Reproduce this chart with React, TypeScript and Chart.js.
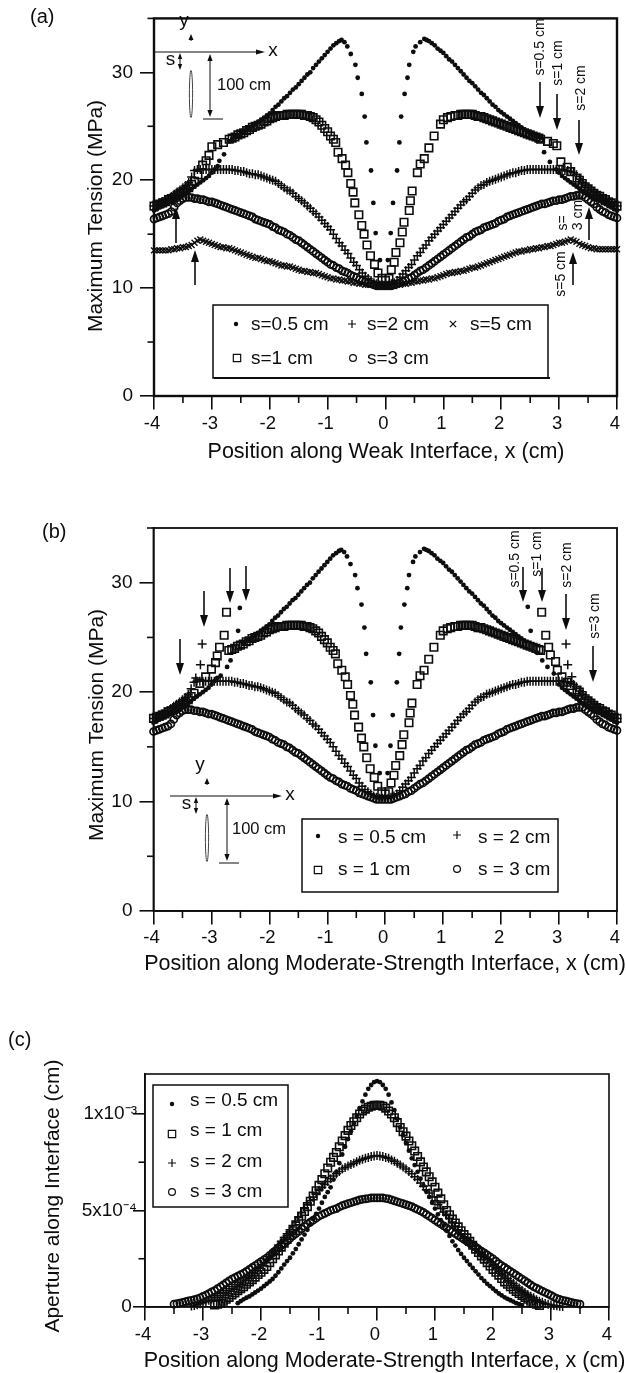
import React, { useEffect, useRef } from "react";
import { Chart, registerables } from "chart.js";
import { drawPoint } from "chart.js/helpers";

Chart.register(...registerables);

const FONT = '"Liberation Sans", Arial, sans-serif';
const INK = "#0d0d0d";

// position grids, cm
const gridX = [-4,-3.9,-3.8,-3.7,-3.6,-3.5,-3.4,-3.3,-3.2,-3.1,-3,-2.9,-2.8,-2.7,-2.6,-2.5,-2.4,-2.3,-2.2,-2.1,-2,-1.9,-1.8,-1.7,-1.6,-1.5,-1.4,-1.3,-1.2,-1.1,-1,-0.9,-0.8,-0.7,-0.6,-0.5,-0.4,-0.3,-0.2,-0.1,0,0.1,0.2,0.3,0.4,0.5,0.6,0.7,0.8,0.9,1,1.1,1.2,1.3,1.4,1.5,1.6,1.7,1.8,1.9,2,2.1,2.2,2.3,2.4,2.5,2.6,2.7,2.8,2.9,3,3.1,3.2,3.3,3.4,3.5,3.6,3.7,3.8,3.9,4];
const gridMid = [-3.95,-3.85,-3.75,-3.65,-3.55,-3.45,-3.35,-3.25,-3.15,-3.05,-2.95,-2.85,-2.75,-2.65,-2.55,-2.45,-2.35,-2.25,-2.15,-2.05,-1.95,-1.85,-1.75,-1.65,-1.55,-1.45,-1.35,-1.25,-1.15,-1.05,-0.95,-0.85,-0.75,-0.65,-0.55,-0.45,-0.35,-0.25,-0.15,-0.05,0.05,0.15,0.25,0.35,0.45,0.55,0.65,0.75,0.85,0.95,1.05,1.15,1.25,1.35,1.45,1.55,1.65,1.75,1.85,1.95,2.05,2.15,2.25,2.35,2.45,2.55,2.65,2.75,2.85,2.95,3.05,3.15,3.25,3.35,3.45,3.55,3.65,3.75,3.85,3.95];

// s = 2, 3, 5 cm tension on the grids, MPa
const tensionS2 = [17.6,17.9,18.2,18.5,18.9,19.3,19.8,20.9,21,21,21,21,21,21,20.9,20.8,20.7,20.6,20.5,20.3,20.1,19.9,19.5,19.1,18.8,18.3,17.9,17.4,16.9,16.3,15.7,15,14.2,13.5,12.8,12.1,11.4,10.9,10.5,10.3,10.3,10.4,10.7,11.3,11.9,12.6,13.3,14,14.7,15.3,15.9,16.5,17.1,17.7,18.2,18.8,19.3,19.6,19.9,20.1,20.3,20.5,20.7,20.8,20.9,21,21,21,21,21,21,20.9,20.8,20.5,19.8,19.3,18.9,18.5,18.2,17.9,17.6];
const tensionS2Mid = [17.7,18,18.3,18.7,19.1,19.5,20.3,21,21,21,21,21,21,21,20.9,20.8,20.6,20.5,20.4,20.2,20,19.7,19.3,19,18.5,18.1,17.6,17.1,16.6,16,15.4,14.6,13.9,13.2,12.4,11.7,11.1,10.7,10.4,10.3,10.3,10.5,11,11.6,12.2,13,13.7,14.4,15,15.6,16.2,16.8,17.4,18,18.5,19.1,19.5,19.8,20,20.2,20.4,20.6,20.7,20.9,21,21,21,21,21,21,21,20.9,20.7,20.1,19.5,19.1,18.7,18.3,18,17.7];
const tensionS3 = [16.4,16.6,16.8,17.1,17.9,18.3,18.4,18.3,18.2,18.1,18,17.8,17.6,17.4,17.2,17,16.8,16.6,16.3,16.1,15.9,15.6,15.3,15,14.7,14.4,14,13.6,13.2,12.8,12.4,12.1,11.8,11.5,11.2,11,10.7,10.5,10.3,10.2,10.2,10.2,10.4,10.6,10.9,11.2,11.6,11.9,12.3,12.7,13.1,13.5,13.9,14.3,14.7,15,15.3,15.6,15.8,16,16.3,16.6,16.8,17,17.2,17.4,17.6,17.8,17.9,18.1,18.2,18.3,18.5,18.6,18.6,18.2,17.8,17.3,17,16.7,16.5];
const tensionS3Mid = [16.5,16.7,16.9,17.5,18.1,18.4,18.4,18.3,18.2,18,17.9,17.7,17.5,17.3,17.1,16.9,16.7,16.4,16.2,16,15.7,15.4,15.2,14.9,14.5,14.2,13.8,13.4,13,12.6,12.2,11.9,11.6,11.4,11.1,10.8,10.6,10.4,10.2,10.2,10.2,10.3,10.5,10.7,11,11.4,11.7,12.1,12.5,12.9,13.3,13.7,14.1,14.5,14.8,15.2,15.4,15.7,15.9,16.2,16.4,16.7,16.9,17.1,17.3,17.5,17.7,17.8,18,18.1,18.2,18.4,18.5,18.6,18.4,18,17.5,17.1,16.8,16.6];
const tensionS5 = [13.5,13.5,13.5,13.6,13.7,13.8,13.9,14.2,14.5,14.3,14.1,13.9,13.8,13.7,13.5,13.3,13.1,12.9,12.8,12.6,12.5,12.3,12.1,12,11.9,11.7,11.6,11.5,11.4,11.2,11,10.9,10.8,10.7,10.6,10.5,10.4,10.3,10.3,10.2,10.2,10.2,10.3,10.4,10.5,10.6,10.7,10.8,10.9,11,11.2,11.4,11.5,11.6,11.7,11.9,12,12.2,12.4,12.6,12.8,13,13.2,13.4,13.5,13.6,13.7,13.8,13.9,14,14.2,14.3,14.5,14.3,14,13.8,13.7,13.6,13.6,13.6,13.6];
const tensionS5Mid = [13.5,13.5,13.5,13.6,13.7,13.8,14,14.4,14.4,14.2,14,13.8,13.7,13.6,13.4,13.2,13,12.8,12.7,12.5,12.4,12.2,12.1,12,11.8,11.6,11.5,11.4,11.3,11.1,10.9,10.8,10.7,10.6,10.5,10.4,10.3,10.3,10.2,10.2,10.2,10.2,10.3,10.4,10.5,10.6,10.7,10.8,10.9,11.1,11.3,11.4,11.5,11.6,11.8,11.9,12.1,12.3,12.5,12.7,12.9,13.1,13.3,13.4,13.5,13.6,13.7,13.8,13.9,14.1,14.2,14.4,14.4,14.1,13.9,13.7,13.6,13.6,13.6,13.6];

// s = 0.5 cm: arc and tails shared by (a) and (b)
const s05TailLX = [-4,-3.95,-3.9,-3.85,-3.8,-3.75,-3.7,-3.65,-3.6,-3.55,-3.5,-3.45,-3.4,-3.35,-3.3,-3.25,-3.2,-3.15,-3.1,-3.05,-3,-2.95,-2.9];
const s05TailLY = [17.2,17.3,17.5,17.6,17.8,17.9,18.1,18.2,18.4,18.5,18.7,18.8,19,19.2,19.4,19.6,19.8,20,20.2,20.4,20.7,21,21.3];
const s05TailRX = [3,3.05,3.1,3.15,3.2,3.25,3.3,3.35,3.4,3.45,3.5,3.55,3.6,3.65,3.7,3.75,3.8,3.85,3.9,3.95,4];
const s05TailRY = [20.7,20.4,20.2,20,19.8,19.6,19.4,19.2,19,18.8,18.7,18.5,18.4,18.2,18.1,17.9,17.8,17.6,17.5,17.3,17.2];
const s05CoreX = [-2.45,-2.4,-2.35,-2.3,-2.25,-2.2,-2.15,-2.1,-2.05,-2,-1.95,-1.9,-1.85,-1.8,-1.75,-1.7,-1.65,-1.6,-1.55,-1.5,-1.45,-1.4,-1.35,-1.3,-1.25,-1.2,-1.15,-1.1,-1.05,-1,-0.95,-0.9,-0.85,-0.8,-0.76,-0.71,-0.66,-0.6,-0.52,-0.48,-0.41,-0.36,-0.33,-0.25,-0.21,-0.17,-0.095,0.04,0.09,0.13,0.2,0.24,0.27,0.33,0.38,0.41,0.48,0.52,0.6,0.67,0.71,0.75,0.8,0.85,0.9,0.95,1,1.05,1.1,1.15,1.2,1.25,1.3,1.35,1.4,1.45,1.5,1.55,1.6,1.65,1.7,1.75,1.8,1.85,1.9,1.95,2,2.05,2.1,2.15,2.2,2.25,2.3,2.35,2.4];
const s05CoreY = [24.5,24.7,24.8,25,25.2,25.4,25.6,25.8,26,26.2,26.5,26.8,27,27.3,27.6,27.8,28.1,28.4,28.6,28.9,29.2,29.5,29.8,30,30.4,30.7,31,31.3,31.6,31.9,32.2,32.5,32.7,32.9,33,32.8,32.4,31.7,30.7,29.5,28,25.9,23.5,20.9,17.9,15.1,12.6,12.6,15.1,17.9,20.9,23.5,25.9,28,29.5,30.7,31.9,32.4,32.8,33.1,33,32.9,32.7,32.5,32.2,32,31.8,31.5,31.2,31,30.7,30.4,30.1,29.8,29.5,29.2,29,28.7,28.4,28.1,27.9,27.6,27.3,27,26.8,26.5,26.3,26.1,25.9,25.7,25.5,25.3,25.1,24.9,24.7];
const s05ExtraAX = [-2.87,-2.79,-2.7,-2.65,-2.6,-2.55,-2.5,2.45,2.5,2.55,2.6,2.65,2.68,2.74,2.84,2.95];
const s05ExtraAY = [21.8,22.4,23.6,23.8,24,24.1,24.3,24.5,24.3,24.2,24.1,24,23.9,22.6,21.7,21];
const s05ExtraBX = [-2.51,-2.54,-2.67,-2.73,-2.84,2.46,2.51,2.62,2.71,2.8,2.91];
const s05ExtraBY = [27.7,25.6,22.9,22.3,21.5,27.8,25.6,23.6,22.9,22.3,21.7];

// s = 1 cm
const s1TailLX = [-4,-3.95,-3.9,-3.85,-3.8,-3.75,-3.7,-3.65,-3.6,-3.55,-3.5,-3.45,-3.4,-3.35,-3.3];
const s1TailLY = [17.6,17.7,17.8,17.9,18,18.2,18.3,18.4,18.6,18.8,18.9,19.1,19.3,19.6,19.9];
const s1TailRX = [3.31,3.35,3.4,3.45,3.5,3.55,3.6,3.65,3.7,3.75,3.8,3.85,3.9,3.95,4];
const s1TailRY = [20.2,20,19.7,19.4,19.2,19,18.8,18.6,18.5,18.3,18.2,18,17.9,17.7,17.6];
const s1CoreX = [-2.7,-2.6,-2.5,-2.4,-2.3,-2.2,-2.1,-2,-1.9,-1.8,-1.7,-1.6,-1.5,-1.4,-1.3,-1.2,-1.1,-1,-0.95,-0.9,-0.86,-0.82,-0.75,-0.69,-0.65,-0.6,-0.56,-0.53,-0.46,-0.41,-0.37,-0.32,-0.26,-0.19,-0.13,-0.06,0,0.06,0.1,0.15,0.18,0.25,0.29,0.32,0.41,0.43,0.46,0.55,0.6,0.67,0.75,0.84,0.95,1.07,1.2,1.3,1.4,1.5,1.6,1.7,1.8,1.9,2,2.1,2.2,2.3,2.4,2.5,2.6,2.68];
const s1CoreY = [23.8,24,24.3,24.6,24.9,25.1,25.4,25.7,25.9,26,26.1,26.1,26.1,26,25.9,25.6,25.1,24.5,24.1,23.8,23.5,22.6,22,21.4,20.7,19.7,18.9,17.9,16.8,15.8,15,14,13,12.2,11.4,10.9,10.7,10.9,11.7,12.4,13.3,14.2,15.2,16.1,17.2,18.1,19,20.7,21.5,22,23,24.1,25.2,25.8,26,26.1,26.1,26.1,25.9,25.8,25.6,25.4,25.2,25,24.8,24.6,24.4,24.2,24,23.8];
const s1PlateauX = [-2.65,-2.55,-2.45,-2.35,-2.25,-2.15,-2.05,-1.95,-1.85,-1.75,-1.65,-1.55,-1.45,-1.35,-1.25,-1.15,-1.05,1,1.13,1.25,1.35,1.45,1.55,1.65,1.75,1.85,1.95,2.05,2.15,2.25,2.35,2.45,2.55,2.65];
const s1PlateauY = [23.9,24.2,24.4,24.7,25,25.2,25.5,25.8,26,26,26.1,26.1,26.1,26,25.8,25.4,24.8,25.6,25.9,26,26.1,26.1,26,25.9,25.7,25.5,25.3,25.1,24.9,24.7,24.5,24.3,24.1,23.9];
const s1ExtraAX = [-3.24,-3.16,-3.1,-3.05,-3,-2.9,-2.8,2.8,2.9,2.96,3.03,3.14,3.2];
const s1ExtraAY = [20.5,21.4,21.8,22.3,23.1,23.3,23.5,23.6,23.4,23.2,21.7,21.2,20.8];
const s1ExtraBX = [-3.2,-3.1,-3,-2.93,-2.9,-2.86,-2.78,-2.74,2.7,2.77,2.82,2.85,2.94,2.97,3.05,3.14,3.2];
const s1ExtraBY = [20.8,21.4,22.1,22.7,23.3,24.1,25.2,27.3,27.3,25.2,24.1,23.4,22.8,22,21.4,20.9,20.6];

// isolated s = 2 cm points of (b)
const s2ExtraBX = [-3.16,-3.19,-3.27,3.12,3.15,3.22];
const s2ExtraBY = [24.4,22.5,21.3,24.4,22.5,21.4];

// aperture panel, units of 1e-4 cm
const gridC = [-3.5,-3.4,-3.3,-3.2,-3.1,-3,-2.9,-2.8,-2.7,-2.6,-2.5,-2.4,-2.3,-2.2,-2.1,-2,-1.9,-1.8,-1.7,-1.6,-1.5,-1.4,-1.3,-1.2,-1.1,-1,-0.9,-0.8,-0.7,-0.6,-0.5,-0.4,-0.3,-0.2,-0.1,0,0.1,0.2,0.3,0.4,0.5,0.6,0.7,0.8,0.9,1,1.1,1.2,1.3,1.4,1.5,1.6,1.7,1.8,1.9,2,2.1,2.2,2.3,2.4,2.5,2.6,2.7,2.8,2.9,3,3.1,3.2,3.3,3.4,3.5];
const gridCMid = [-3.45,-3.35,-3.25,-3.15,-3.05,-2.95,-2.85,-2.75,-2.65,-2.55,-2.45,-2.35,-2.25,-2.15,-2.05,-1.95,-1.85,-1.75,-1.65,-1.55,-1.45,-1.35,-1.25,-1.15,-1.05,-0.95,-0.85,-0.75,-0.65,-0.55,-0.45,-0.35,-0.25,-0.15,-0.05,0.05,0.15,0.25,0.35,0.45,0.55,0.65,0.75,0.85,0.95,1.05,1.15,1.25,1.35,1.45,1.55,1.65,1.75,1.85,1.95,2.05,2.15,2.25,2.35,2.45,2.55,2.65,2.75,2.85,2.95,3.05,3.15,3.25,3.35,3.45];
const apertureS3 = [0.15,0.2,0.28,0.35,0.42,0.55,0.7,0.85,1.05,1.25,1.45,1.6,1.75,1.95,2.15,2.35,2.55,2.8,3.05,3.3,3.55,3.8,4.05,4.3,4.5,4.7,4.85,5,5.1,5.25,5.35,5.45,5.55,5.6,5.65,5.65,5.65,5.6,5.5,5.4,5.3,5.2,5.05,4.9,4.7,4.5,4.3,4.1,3.9,3.7,3.5,3.3,3.1,2.9,2.7,2.5,2.25,2.05,1.85,1.65,1.45,1.25,1.05,0.9,0.75,0.6,0.45,0.35,0.28,0.2,0.15];
const apertureS3Mid = [0.18,0.24,0.32,0.38,0.48,0.62,0.78,0.95,1.15,1.35,1.52,1.68,1.85,2.05,2.25,2.45,2.68,2.92,3.18,3.42,3.68,3.92,4.18,4.4,4.6,4.78,4.92,5.05,5.18,5.3,5.4,5.5,5.58,5.62,5.65,5.65,5.62,5.55,5.45,5.35,5.25,5.12,4.98,4.8,4.6,4.4,4.2,4,3.8,3.6,3.4,3.2,3,2.8,2.6,2.38,2.15,1.95,1.75,1.55,1.35,1.15,0.98,0.82,0.68,0.52,0.4,0.32,0.24,0.18];
const apertureS2 = [0.05,0.12,0.22,0.35,0.5,0.68,0.85,1.05,1.25,1.45,1.65,1.9,2.2,2.45,2.8,3.2,3.6,4,4.45,4.9,5.3,5.7,6.05,6.35,6.65,6.9,7.15,7.3,7.45,7.6,7.7,7.8,7.85,7.8,7.7,7.55,7.35,7.15,6.9,6.6,6.25,5.9,5.5,5.1,4.75,4.4,4,3.6,3.3,3,2.7,2.45,2.2,1.9,1.6,1.35,1.1,0.85,0.65,0.48,0.3,0.18,0.1,0.06,0.02];
const apertureS2Mid = [0.08,0.17,0.28,0.42,0.58,0.76,0.95,1.15,1.35,1.55,1.78,2.05,2.32,2.62,3,3.4,3.8,4.22,4.68,5.1,5.5,5.88,6.2,6.5,6.78,7.02,7.22,7.38,7.52,7.65,7.75,7.82,7.82,7.75,7.62,7.45,7.25,7.02,6.75,6.42,6.08,5.7,5.3,4.92,4.58,4.2,3.8,3.45,3.15,2.85,2.58,2.32,2.05,1.75,1.48,1.22,0.98,0.75,0.56,0.38,0.24,0.14,0.08,0.04];
const apertureS1 = [0.1,0.2,0.4,0.62,0.85,1.05,1.3,1.55,1.8,2.1,2.5,2.9,3.3,3.7,4.2,4.7,5.2,5.75,6.3,6.9,7.5,8,8.6,9.15,9.6,10,10.25,10.4,10.45,10.4,10.15,9.8,9.3,8.85,8.35,7.8,7.25,6.75,6.2,5.6,5,4.55,4.15,3.75,3.4,3,2.65,2.3,1.95,1.65,1.3,1.05,0.8,0.6,0.4,0.2,0.08];
const apertureS1Mid = [0.15,0.3,0.5,0.73,0.95,1.18,1.42,1.68,1.95,2.3,2.7,3.1,3.5,3.95,4.45,4.95,5.48,6.02,6.6,7.2,7.75,8.3,8.88,9.4,9.8,10.15,10.35,10.45,10.45,10.3,10,9.55,9.08,8.6,8.08,7.52,7,6.48,5.9,5.3,4.78,4.35,3.95,3.58,3.2,2.82,2.48,2.12,1.8,1.48,1.18,0.92,0.7,0.5,0.3,0.14];
const apertureS05 = [0.2,0.4,0.55,0.75,0.95,1.2,1.45,1.8,2.2,2.55,3,3.5,4,4.55,5.1,5.7,6.2,7,7.9,8.7,9.5,10.3,11,11.5,11.7,11.5,11,10.2,9.3,8.5,7.7,7,6.3,5.7,5.1,4.5,3.95,3.4,2.95,2.55,2.2,1.85,1.5,1.2,0.95,0.7,0.5,0.35,0.2,0.1];
const apertureS05Mid = [0.3,0.48,0.65,0.85,1.08,1.32,1.62,2,2.38,2.78,3.25,3.75,4.28,4.82,5.4,5.95,6.6,7.45,8.3,9.1,9.9,10.65,11.3,11.65,11.65,11.3,10.6,9.75,8.9,8.1,7.35,6.65,6,5.4,4.8,4.22,3.68,3.18,2.75,2.38,2.02,1.68,1.35,1.08,0.82,0.6,0.42,0.28,0.15];

const pts = (xs: number[], ys: number[]) => xs.map((x, i) => ({ x, y: ys[i] }));

const STYLE: any = {
  s05: { pointStyle: "circle", pointRadius: 2.4, pointBackgroundColor: INK, pointBorderColor: INK, pointBorderWidth: 0 },
  s1: { pointStyle: "rect", pointRadius: 5.3, pointBackgroundColor: "transparent", pointBorderColor: INK, pointBorderWidth: 1.6 },
  s2: { pointStyle: "cross", pointRadius: 4.5, pointBackgroundColor: "transparent", pointBorderColor: INK, pointBorderWidth: 1.5 },
  s3: { pointStyle: "circle", pointRadius: 3.5, pointBackgroundColor: "transparent", pointBorderColor: INK, pointBorderWidth: 1.7 },
  s5: { pointStyle: "crossRot", pointRadius: 4.2, pointBackgroundColor: "transparent", pointBorderColor: INK, pointBorderWidth: 1.4 },
};

const ds = (label: string, key: string, data: any[]) => ({ label, data, showLine: false, clip: false, ...STYLE[key] });

const text = (c: any, t: string, x: number, y: number, size = 19, align = "left") => {
  c.font = `${size}px ${FONT}`;
  c.fillStyle = INK;
  c.textAlign = align;
  c.textBaseline = "middle";
  c.fillText(t, x, y);
};
const vtext = (c: any, t: string, x: number, y: number, size = 14) => {
  c.save();
  c.translate(x, y);
  c.rotate(-Math.PI / 2);
  text(c, t, 0, 0, size, "center");
  c.restore();
};
const line = (c: any, x1: number, y1: number, x2: number, y2: number, w = 1) => {
  c.strokeStyle = INK;
  c.lineWidth = w;
  c.beginPath();
  c.moveTo(x1, y1);
  c.lineTo(x2, y2);
  c.stroke();
};
const head = (c: any, x: number, y: number, dx: number, dy: number, len: number, hw: number) => {
  c.fillStyle = INK;
  c.beginPath();
  c.moveTo(x, y);
  c.lineTo(x - dx * len - dy * hw, y - dy * len - dx * hw);
  c.lineTo(x - dx * len + dy * hw, y - dy * len + dx * hw);
  c.closePath();
  c.fill();
};
const arrow = (c: any, x1: number, y1: number, x2: number, y2: number, w = 1.6, len = 12, hw = 4) => {
  const d = Math.hypot(x2 - x1, y2 - y1);
  const dx = (x2 - x1) / d, dy = (y2 - y1) / d;
  line(c, x1, y1, x2 - dx * len * 0.7, y2 - dy * len * 0.7, w);
  head(c, x2, y2, dx, dy, len, hw);
};
const mark = (c: any, key: string, x: number, y: number) => {
  const s = STYLE[key];
  const r = key === "s05" ? 2.2 : key === "s1" ? 5.2 : key === "s3" ? 3.4 : key === "s2" ? 4 : 4.4;
  c.save();
  c.strokeStyle = INK;
  c.fillStyle = key === "s05" ? INK : "transparent";
  c.lineWidth = 1.2;
  drawPoint(c, { pointStyle: s.pointStyle, radius: r, rotation: 0, borderWidth: key === "s05" ? 0 : 1.2 }, x, y);
  c.restore();
};
const inset = (c: any, ox: number, oy: number, axisEnd: number, xLab: number, ellX: number, dimX: number, barL: number, barR: number) => {
  line(c, ox, oy, axisEnd - 6, oy, 1.1);
  head(c, axisEnd, oy, 1, 0, 9, 2.5);
  text(c, "x", xLab, oy - 1, 19, "center");
  text(c, "y", ellX - 7, oy - 31, 19, "center");
  head(c, ellX, oy - 18, 0, -1, 6, 2.5);
  line(c, ellX, oy - 13, ellX, oy - 11, 1);
  text(c, "s", ellX - 20.5, oy + 8, 19, "center");
  arrow(c, ellX - 11, oy + 9, ellX - 11, oy + 1, 1, 6, 2.2);
  arrow(c, ellX - 11, oy + 9, ellX - 11, oy + 18, 1, 6, 2.2);
  c.strokeStyle = "#444";
  c.lineWidth = 1;
  c.beginPath();
  c.ellipse(ellX, oy + 42, 1.6, 23.5, 0, 0, Math.PI * 2);
  c.stroke();
  arrow(c, dimX, oy + 33, dimX, oy + 2, 1, 7, 2.6);
  arrow(c, dimX, oy + 33, dimX, oy + 65, 1, 7, 2.6);
  line(c, barL, oy + 67, barR, oy + 67, 1);
};

const drawTicksAndFrame = (chart: any, frameW: number, yLen: number, xLen: number, yStep: number) => {
  const c = chart.ctx;
  const { left, right, top, bottom } = chart.chartArea;
  c.save();
  c.strokeStyle = INK;
  c.lineWidth = frameW;
  c.strokeRect(left, top, right - left, bottom - top);
  chart.scales.x.ticks.forEach((t: any) => {
    if (!Number.isInteger(t.value)) {
      const p = chart.scales.x.getPixelForValue(t.value);
      line(c, p, bottom, p, bottom + xLen, 1.6);
    }
  });
  chart.scales.y.ticks.forEach((t: any) => {
    if (t.value % (yStep * 2) !== 0 && t.value % yStep === 0) {
      const p = chart.scales.y.getPixelForValue(t.value);
      line(c, left, p, left - yLen, p, 1.6);
    }
  });
  c.restore();
};

const overlayA = (c: any) => {
  text(c, "(a)", 30, 17, 20);
  vtext(c, "Maximum Tension (MPa)", 96, 216, 21);
  text(c, "Position along Weak Interface, x (cm)", 386, 452, 21.5, "center");
  inset(c, 153, 52, 265, 273, 191, 210, 203, 223);
  text(c, "100 cm", 217, 85, 16.5);
  c.strokeStyle = INK;
  c.lineWidth = 1.5;
  c.strokeRect(213, 305, 335, 73);
  line(c, 214, 378, 550, 378, 2);
  mark(c, "s05", 236, 324); text(c, "s=0.5 cm", 251, 325);
  mark(c, "s2", 352, 324); text(c, "s=2 cm", 367, 325);
  mark(c, "s5", 453, 324); text(c, "s=5 cm", 470, 325);
  mark(c, "s1", 237, 358); text(c, "s=1 cm", 251, 359);
  mark(c, "s3", 353, 358); text(c, "s=3 cm", 367, 359);
  vtext(c, "s=0.5 cm", 540, 47); arrow(c, 540, 82, 540, 118);
  vtext(c, "s=1 cm", 558, 63); arrow(c, 557, 94, 557, 130);
  vtext(c, "s=2 cm", 581, 88); arrow(c, 579, 120, 579, 155);
  vtext(c, "s=", 563, 223); vtext(c, "3 cm", 578, 215); arrow(c, 589, 240, 589, 207);
  vtext(c, "s=5 cm", 561, 274); arrow(c, 573, 285, 573, 252);
  arrow(c, 176, 243, 176, 207);
  arrow(c, 195, 285, 195, 250);
};
const overlayB = (c: any) => {
  const o = 480;
  text(c, "(b)", 42, 532 - o, 20);
  vtext(c, "Maximum Tension (MPa)", 97, 725 - o, 21);
  text(c, "Position along Moderate-Strength Interface, x (cm)", 385, 964 - o, 21.5, "center");
  inset(c, 170, 796 - o, 282, 290, 207, 227, 219, 239);
  text(c, "100 cm", 232, 829 - o, 16.5);
  c.strokeStyle = INK;
  c.lineWidth = 1.5;
  c.strokeRect(302, 819 - o, 256, 73);
  mark(c, "s05", 318, 836 - o); text(c, "s = 0.5 cm", 338, 838 - o);
  mark(c, "s2", 457, 835 - o); text(c, "s = 2 cm", 478, 838 - o);
  mark(c, "s1", 318, 870 - o); text(c, "s = 1 cm", 338, 870 - o);
  mark(c, "s3", 457, 869 - o); text(c, "s = 3 cm", 478, 870 - o);
  vtext(c, "s=0.5 cm", 515, 559 - o); arrow(c, 523, 567 - o, 523, 602 - o);
  vtext(c, "s=1 cm", 537, 554 - o); arrow(c, 542, 568 - o, 542, 602 - o);
  vtext(c, "s=2 cm", 567, 565 - o); arrow(c, 566, 594 - o, 566, 630 - o);
  vtext(c, "s=3 cm", 595, 616 - o); arrow(c, 593, 646 - o, 593, 682 - o);
  arrow(c, 180, 639 - o, 180, 675 - o);
  arrow(c, 204, 591 - o, 204, 627 - o);
  arrow(c, 230, 568 - o, 230, 603 - o);
  arrow(c, 246, 566 - o, 246, 601 - o);
};
const overlayC = (c: any) => {
  const o = 1010;
  text(c, "(c)", 8, 1040 - o, 20);
  vtext(c, "Aperture along Interface (cm)", 53, 1196 - o, 21);
  text(c, "Position along Moderate-Strength Interface, x (cm)", 384.5, 1361 - o, 21.5, "center");
  c.strokeStyle = INK;
  c.lineWidth = 1.5;
  c.strokeRect(153, 1085 - o, 135, 122);
  mark(c, "s05", 172, 1104 - o); text(c, "s = 0.5 cm", 190, 1101 - o);
  mark(c, "s1", 172, 1134 - o); text(c, "s = 1 cm", 190, 1131 - o);
  mark(c, "s2", 172, 1163 - o); text(c, "s = 2 cm", 190, 1162 - o);
  mark(c, "s3", 172, 1192 - o); text(c, "s = 3 cm", 190, 1192 - o);
};

type PanelCfg = {
  top: number; height: number; plotLeft: number; plotRight: number; plotTop: number; plotBottom: number;
  yMax: number; yStep: number; yLabel: (v: number) => string; yTickLen: number; yPad: number; xPad: number; frame: number;
  datasets: any[]; overlay: (c: any) => void;
};

const panels: PanelCfg[] = [
  {
    top: 0, height: 480, plotLeft: 154, plotRight: 617, plotTop: 11, plotBottom: 396,
    yMax: 35, yStep: 5, yLabel: (v) => (v % 10 === 0 ? String(v) : ""), yTickLen: 14, yPad: 7, xPad: 3, frame: 2.4,
    overlay: overlayA,
    datasets: [
      ds("s=0.5 cm", "s05", pts([...s05TailLX, ...s05ExtraAX.slice(0, 7), ...s05CoreX, ...s05ExtraAX.slice(7), ...s05TailRX], [...s05TailLY, ...s05ExtraAY.slice(0, 7), ...s05CoreY, ...s05ExtraAY.slice(7), ...s05TailRY])),
      ds("s=1 cm", "s1", pts([...s1TailLX, ...s1ExtraAX.slice(0, 7), ...s1PlateauX, ...s1CoreX, ...s1ExtraAX.slice(7), ...s1TailRX], [...s1TailLY, ...s1ExtraAY.slice(0, 7), ...s1PlateauY, ...s1CoreY, ...s1ExtraAY.slice(7), ...s1TailRY])),
      ds("s=2 cm", "s2", pts([...gridX, ...gridMid], [...tensionS2, ...tensionS2Mid])),
      ds("s=3 cm", "s3", pts([...gridX, ...gridMid], [...tensionS3, ...tensionS3Mid])),
      ds("s=5 cm", "s5", pts([...gridX, ...gridMid], [...tensionS5, ...tensionS5Mid])),
    ],
  },
  {
    top: 480, height: 510, plotLeft: 153.5, plotRight: 617, plotTop: 48, plotBottom: 431,
    yMax: 35, yStep: 5, yLabel: (v) => (v % 10 === 0 ? String(v) : ""), yTickLen: 14, yPad: 7, xPad: 2.5, frame: 1.8,
    overlay: overlayB,
    datasets: [
      ds("s = 0.5 cm", "s05", pts([...s05TailLX, ...s05ExtraBX, ...s05CoreX, ...s05TailRX], [...s05TailLY, ...s05ExtraBY, ...s05CoreY, ...s05TailRY])),
      ds("s = 1 cm", "s1", pts([...s1TailLX, ...s1ExtraBX, ...s1PlateauX, ...s1CoreX, ...s1TailRX], [...s1TailLY, ...s1ExtraBY, ...s1PlateauY, ...s1CoreY, ...s1TailRY])),
      ds("s = 2 cm", "s2", pts([...gridX, ...gridMid, ...s2ExtraBX], [...tensionS2, ...tensionS2Mid, ...s2ExtraBY])),
      ds("s = 3 cm", "s3", pts([...gridX, ...gridMid], [...tensionS3, ...tensionS3Mid])),
    ],
  },
  {
    top: 1010, height: 363, plotLeft: 145, plotRight: 609, plotTop: 64, plotBottom: 297,
    yMax: 12.07, yStep: 2.5, yLabel: (v) => (v === 10 ? "1x10\u207B\u00B3" : v === 5 ? "5x10\u207B\u2074" : v === 0 ? "0 " : ""), yTickLen: 12, yPad: -4, xPad: 3, frame: 1.6,
    overlay: overlayC,
    datasets: [
      ds("s = 0.5 cm", "s05", pts([...gridC.slice(11, 61), ...gridCMid.slice(11, 60)], [...apertureS05, ...apertureS05Mid])),
      ds("s = 1 cm", "s1", pts([...gridC.slice(7, 64), ...gridCMid.slice(7, 63)], [...apertureS1, ...apertureS1Mid])),
      ds("s = 2 cm", "s2", pts([...gridC.slice(3, 68), ...gridCMid.slice(3, 67)], [...apertureS2, ...apertureS2Mid])),
      ds("s = 3 cm", "s3", pts([...gridC, ...gridCMid], [...apertureS3, ...apertureS3Mid])),
    ],
  },
];

function Panel({ cfg }: { cfg: PanelCfg }) {
  const ref = useRef<HTMLCanvasElement>(null);
  useEffect(() => {
    const plugin = {
      id: "overlay",
      afterDatasetsDraw(chart: any) {
        drawTicksAndFrame(chart, cfg.frame, 6.5, 7, cfg.yStep);
        cfg.overlay(chart.ctx);
      },
    };
    const chart = new Chart(ref.current as any, {
      type: "scatter",
      data: { datasets: cfg.datasets },
      plugins: [plugin],
      options: {
        responsive: false,
        animation: false,
        layout: { padding: { top: cfg.plotTop, right: 626 - cfg.plotRight, left: 0, bottom: 0 } },
        plugins: { legend: { display: false }, title: { display: false }, tooltip: { enabled: false } },
        scales: {
          x: {
            type: "linear", min: -4, max: 4,
            afterFit: (s: any) => { s.height = cfg.height - cfg.plotBottom; },
            grid: {
              drawOnChartArea: false, tickLength: 13.5, lineWidth: 1.6,
              tickColor: (ctx: any) => (Number.isInteger(ctx.tick?.value) ? INK : "transparent"),
            },
            border: { color: INK, width: 1.6 },
            ticks: {
              stepSize: 0.5, autoSkip: false, maxRotation: 0, padding: cfg.xPad, labelOffset: -2, color: INK,
              font: { family: FONT, size: 18.5 },
              callback: (v: any) => (Number.isInteger(v) ? String(v) : ""),
            },
          },
          y: {
            type: "linear", min: 0, max: cfg.yMax,
            afterFit: (s: any) => { s.width = cfg.plotLeft; },
            grid: {
              drawOnChartArea: false, tickLength: cfg.yTickLen, lineWidth: 1.6,
              tickColor: (ctx: any) => (ctx.tick?.value % (cfg.yStep * 2) === 0 ? INK : "transparent"),
            },
            border: { color: INK, width: 1.6 },
            ticks: {
              stepSize: cfg.yStep, autoSkip: false, padding: cfg.yPad, color: INK,
              font: { family: FONT, size: 19 },
              callback: (v: any) => cfg.yLabel(v),
            },
          },
        },
      },
    } as any);
    return () => chart.destroy();
  }, [cfg]);
  return (
    <canvas
      ref={ref}
      width={626}
      height={cfg.height}
      style={{ position: "absolute", left: 0, top: cfg.top, width: 626, height: cfg.height, display: "block" }}
    />
  );
}

export default function App() {
  return (
    <div style={{ position: "absolute", left: 0, top: 0, width: 626, height: 1373, background: "#fff", overflow: "hidden" }}>
      {panels.map((p, i) => (
        <Panel key={i} cfg={p} />
      ))}
    </div>
  );
}
